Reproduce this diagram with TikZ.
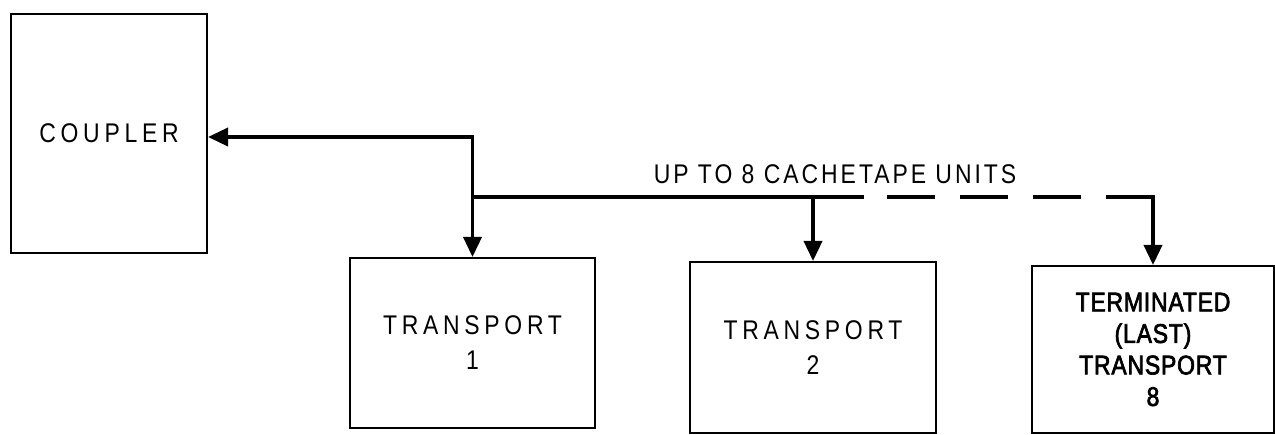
\documentclass[tikz,border=0pt]{standalone}
\usepackage{fontspec}
\setmainfont{Liberation Sans}[FakeStretch=0.85]
\usepackage{tikz}
\usetikzlibrary{positioning}
\usetikzlibrary{arrows.meta}
\newcommand{\boxthickness}{2pt}
\newcommand{\busthickness}{3.6pt}
\newcommand{\spacedcaps}{\addfontfeature{LetterSpace=17.5}}
\newcommand{\tiplength}{20pt}
\newcommand{\tipwidth}{18pt}

\tikzset{
	unitbox/.style={draw, line width=\boxthickness, inner sep=0pt, align=center,
		font=\fontsize{27}{35}\selectfont},
	bus/.style={line width=\busthickness, line cap=rect},
	tip/.tip={Triangle[length=\tiplength, width=\tipwidth]}
}

\begin{document}
\begin{tikzpicture}[x=1pt, y=1pt]
	\useasboundingbox (0,0) rectangle (1275,434);

	% units
	\node[unitbox, minimum width=196pt, minimum height=239pt] (coupler) at (109,300.5) {\spacedcaps COUPLER};
	\node[unitbox, minimum width=245pt, minimum height=170pt] (tport1) at (472.5,91) {\spacedcaps TRANSPORT\\1};
	\node[unitbox, minimum width=246pt, minimum height=171pt] (tport2) at (813,86.5) {\spacedcaps TRANSPORT\\2};
	\node[unitbox, minimum width=242pt, minimum height=167pt,
		font=\fontsize{27}{31.5}\selectfont\addfontfeature{FakeBold=2.5, LetterSpace=3}] (tport8) at (1153,84.5)
		{TERMINATED\\(LAST)\\TRANSPORT\\8};

	% bus
	\coordinate (junction) at (472.5,297);
	\coordinate (bus) at (472.5,237);
	\coordinate (dashstart) at (862,237);
	\node[font=\fontsize{27}{28}\selectfont\addfontfeature{LetterSpace=11}, inner sep=0pt] (units) at (835,260) {UP TO 8 CACHETAPE UNITS};

	\draw[bus, line cap=butt, tip-tip] (coupler.east |- junction) -- (junction) -- (tport1.north);
	\draw[bus] (bus) -- (dashstart);
	\draw[bus, -tip] (tport2.north |- bus) -- (tport2.north);
	\draw[bus, line cap=butt, dash pattern=on 48pt off 25pt, dash phase=48pt] (dashstart) -- (tport8.north |- bus);
	\draw[bus, -tip] (tport8.north |- bus) -- (tport8.north);
\end{tikzpicture}
\end{document}
